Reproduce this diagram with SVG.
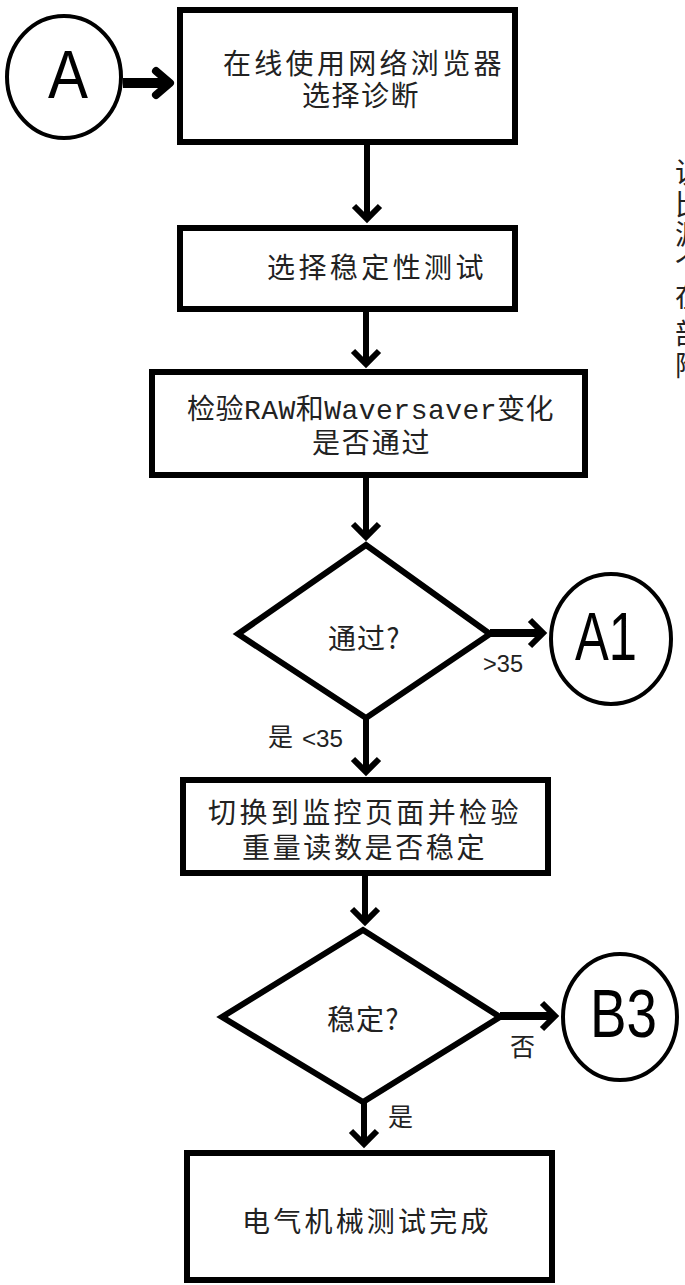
<svg xmlns="http://www.w3.org/2000/svg" width="685" height="1285" viewBox="0 0 685 1285">
<style>
.box{fill:#fff;stroke:#000;stroke-width:6}
.dia{fill:#fff;stroke:#000;stroke-width:6;stroke-linejoin:miter}
.circ{fill:#fff;stroke:#000;stroke-width:4}
.t{font-family:"Noto Sans CJK SC","Noto Sans",sans-serif;font-size:28px;fill:#222;letter-spacing:3.5px}
.lbl{font-family:"Noto Sans CJK SC","Noto Sans",sans-serif;font-size:25px;fill:#222}
.num{font-family:"Liberation Sans",Arial,sans-serif;font-size:23px;fill:#222}
.big{font-family:"Liberation Sans",Arial,sans-serif;font-size:68px;fill:#000}
.con{stroke:#000;fill:none;stroke-linecap:butt}
.v{stroke-width:6}
.h{stroke-width:8}
</style>
<defs>
<marker id="arr" markerUnits="userSpaceOnUse" markerWidth="40" markerHeight="40" viewBox="-20 -20 40 40" refX="0" refY="0" orient="auto">
<path d="M -13 -13 L 0 0 L -13 13" fill="none" stroke="#000" stroke-width="6"/>
</marker>
<marker id="arrBig" markerUnits="userSpaceOnUse" markerWidth="40" markerHeight="40" viewBox="-20 -20 40 40" refX="0" refY="0" orient="auto">
<path d="M -14 -12 L 0 0 L -14 12" fill="none" stroke="#000" stroke-width="8" stroke-linejoin="round" stroke-linecap="round"/>
</marker>
</defs>
<rect width="685" height="1285" fill="#fff"/>

<g id="connectors">
<line class="con" x1="123" y1="83" x2="170" y2="83" stroke-width="10" marker-end="url(#arrBig)"/>
<line class="con v" x1="367" y1="145" x2="367" y2="219" marker-end="url(#arr)"/>
<line class="con v" x1="366" y1="312" x2="366" y2="364" marker-end="url(#arr)"/>
<line class="con v" x1="366" y1="478" x2="366" y2="537" marker-end="url(#arr)"/>
<line class="con v" x1="366" y1="718" x2="366" y2="772" marker-end="url(#arr)"/>
<line class="con v" x1="365" y1="876" x2="365" y2="922" marker-end="url(#arr)"/>
<line class="con v" x1="364" y1="1102" x2="364" y2="1144" marker-end="url(#arr)"/>
<line class="con h" x1="490" y1="633" x2="543" y2="633" marker-end="url(#arr)"/>
<line class="con h" x1="500" y1="1016" x2="555" y2="1016" marker-end="url(#arr)"/>
<text class="num" x="483" y="672" textLength="40" lengthAdjust="spacingAndGlyphs">&gt;35</text>
<text class="lbl" x="268" y="746">是</text>
<text class="num" x="302" y="747" textLength="41" lengthAdjust="spacingAndGlyphs">&lt;35</text>
<text class="lbl" x="510" y="1056">否</text>
<text class="lbl" x="388" y="1126">是</text>
</g>

<g id="nodeA">
<ellipse class="circ" cx="64" cy="77" rx="57" ry="61"/>
<text class="big" x="48" y="98" textLength="40" lengthAdjust="spacingAndGlyphs">A</text>
</g>

<g id="box1">
<rect class="box" x="180" y="10" width="335" height="132"/>
<text class="t" x="223" y="74" textLength="282" lengthAdjust="spacing">在线使用网络浏览器</text>
<text class="t" x="302" y="106" textLength="120" lengthAdjust="spacing">选择诊断</text>
</g>

<g id="box2">
<rect class="box" x="180" y="228" width="335" height="81"/>
<text class="t" x="267" y="278" textLength="220" lengthAdjust="spacing">选择稳定性测试</text>
</g>

<g id="box3">
<rect class="box" x="152" y="372" width="433" height="103"/>
<text class="t" x="187" y="419" textLength="370" lengthAdjust="spacing">检验<tspan font-family="Liberation Mono, monospace">RAW</tspan>和<tspan font-family="Liberation Mono, monospace">Waversaver</tspan>变化</text>
<text class="t" x="312" y="453" textLength="121" lengthAdjust="spacing">是否通过</text>
</g>

<g id="decision1">
<polygon class="dia" points="366,545 490,634 366,718 238,634"/>
<text class="t" x="328" y="649" textLength="75" lengthAdjust="spacing">通过?</text>
</g>

<g id="nodeA1">
<ellipse class="circ" cx="611" cy="639" rx="60" ry="65"/>
<text class="big" x="575" y="660" textLength="62" lengthAdjust="spacingAndGlyphs">A1</text>
</g>

<g id="box4">
<rect class="box" x="183" y="780" width="365" height="93"/>
<text class="t" x="208" y="823" textLength="314" lengthAdjust="spacing">切换到监控页面并检验</text>
<text class="t" x="242" y="858" textLength="246" lengthAdjust="spacing">重量读数是否稳定</text>
</g>

<g id="decision2">
<polygon class="dia" points="363,930 500,1017 363,1102 222,1017"/>
<text class="t" x="327" y="1030" textLength="75" lengthAdjust="spacing">稳定?</text>
</g>

<g id="nodeB3">
<ellipse class="circ" cx="620" cy="1017" rx="57" ry="63"/>
<text class="big" x="590" y="1037" textLength="67" lengthAdjust="spacingAndGlyphs">B3</text>
</g>

<g id="box5">
<rect class="box" x="187" y="1153" width="365" height="127"/>
<text class="t" x="242" y="1232" textLength="250" lengthAdjust="spacing">电气机械测试完成</text>
</g>

<g id="sidenote">
<text class="t" letter-spacing="0" font-size="27px">
<tspan x="675" y="183">说</tspan>
<tspan x="675" y="215">比</tspan>
<tspan x="675" y="245">源</tspan>
<tspan x="675" y="274">个</tspan>
<tspan x="675" y="307">在</tspan>
<tspan x="675" y="344">部</tspan>
<tspan x="675" y="376">附</tspan>
</text>
</g>
</svg>
